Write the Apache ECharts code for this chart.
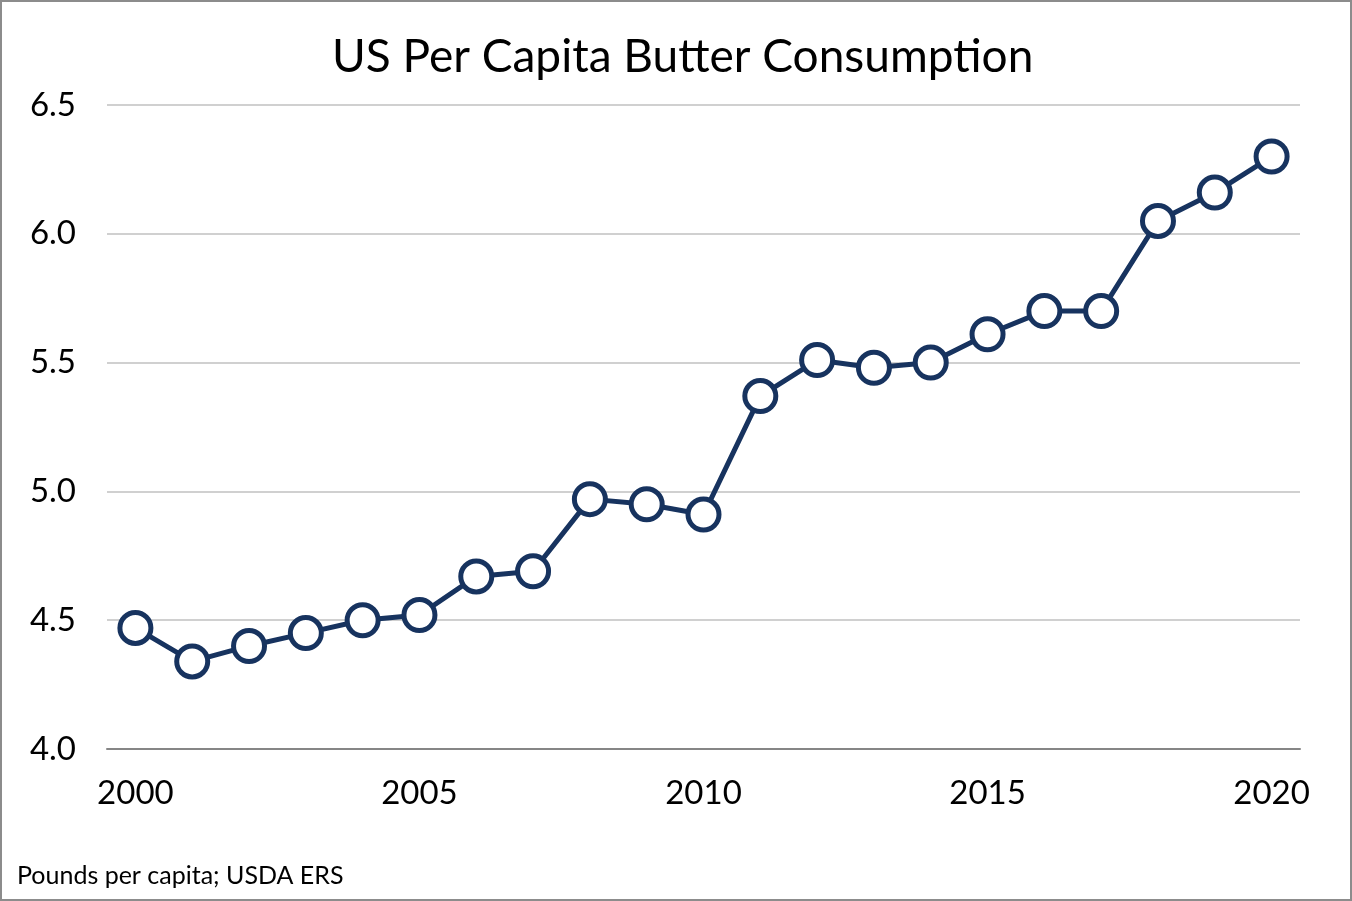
<!DOCTYPE html>
<html>
<head>
<meta charset="utf-8">
<script src="https://cdn.jsdelivr.net/npm/echarts@6/dist/echarts.min.js"></script>
<style>
html,body{margin:0;padding:0;background:#fff;}
#c{width:1352px;height:901px;box-sizing:border-box;border:2px solid #8c8c8c;}
</style>
</head>
<body>
<div id="c"></div>
<script>
const years = ['2000','2001','2002','2003','2004','2005','2006','2007','2008','2009','2010','2011','2012','2013','2014','2015','2016','2017','2018','2019','2020'];
const consumption = [4.47,4.34,4.40,4.45,4.50,4.52,4.67,4.69,4.97,4.95,4.91,5.37,5.51,5.48,5.50,5.61,5.70,5.70,6.05,6.16,6.30];
const titleText = 'US Per Capita Butter Consumption';
const footnote = 'Pounds per capita; USDA ERS';

const chart = echarts.init(document.getElementById('c'), null, {renderer:'canvas'});
chart.setOption({
  animation:false,
  backgroundColor:'#fff',
  textStyle:{fontFamily:'Lato'},
  title:[{
    text:titleText, left:325, top:27,
    textStyle:{fontFamily:'Lato', fontSize:46, fontWeight:'normal', color:'#000'}
  },{
    text:footnote, left:10, top:856,
    textStyle:{fontFamily:'Lato', fontSize:25, fontWeight:'normal', color:'#000'}
  }],
  grid:{left:105, right:50, top:103, bottom:150, containLabel:false},
  xAxis:{
    type:'category', data:years, boundaryGap:true,
    axisLine:{lineStyle:{color:'#868686', width:2}},
    axisTick:{show:false},
    axisLabel:{interval:4, fontFamily:'Lato', fontSize:33, color:'#000', margin:28}
  },
  yAxis:{
    type:'value', min:4.0, max:6.5, interval:0.5,
    axisLine:{show:false}, axisTick:{show:false},
    splitLine:{lineStyle:{color:'#c0c0c0', width:1.5}},
    axisLabel:{fontFamily:'Lato', fontSize:33, color:'#000', margin:31, formatter:v=>v.toFixed(1)}
  },
  series:[{
    type:'line', data:consumption,
    symbol:'circle', symbolSize:31,
    lineStyle:{color:'#17335f', width:5},
    itemStyle:{color:'#fff', borderColor:'#17335f', borderWidth:5}
  }]
});
</script>
</body>
</html>
